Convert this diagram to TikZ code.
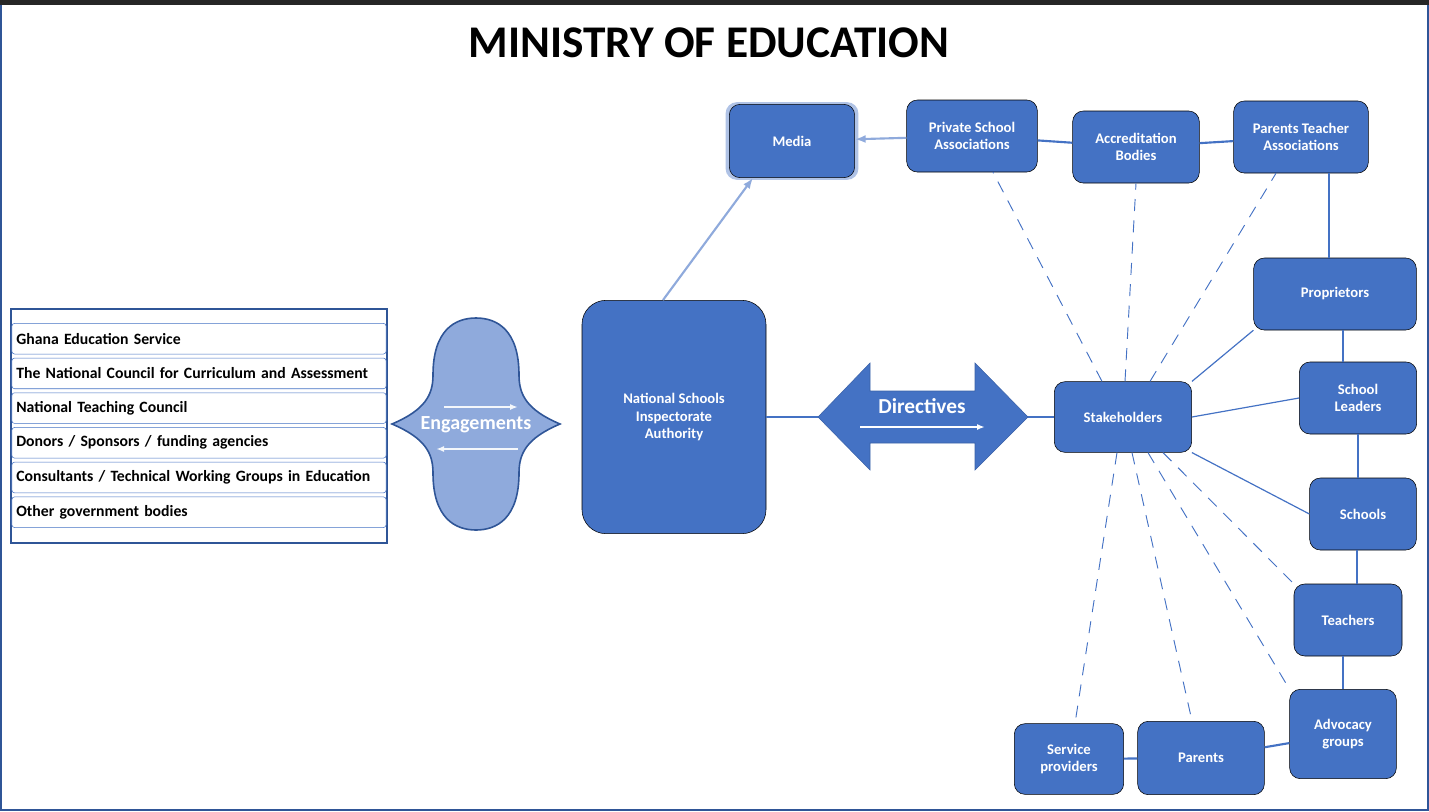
\documentclass[tikz,border=0pt]{standalone}
\usepackage{fontspec}
\setmainfont{Carlito}
\usetikzlibrary{arrows.meta, positioning, calc, backgrounds, shadows}
\definecolor{boxblue}{RGB}{68,114,196}
\definecolor{lightblue}{RGB}{143,170,220}
\definecolor{edgeblue}{RGB}{47,85,151}
\tikzset{
    block/.style={
        rectangle,
        rounded corners=8pt,
        draw=black,
        fill=boxblue,
        text=white,
        align=center,
        font=\fontsize{11}{13}\selectfont\bfseries
    },
    listrow/.style={
        rectangle,
        rounded corners=2pt,
        draw=boxblue,
        fill=white,
        minimum width=278pt,
        minimum height=23pt,
        text width=274pt,
        align=left,
        font=\fontsize{11.8}{13}\selectfont\bfseries
    },
    link/.style={
        draw=boxblue,
        line width=1.6pt
    },
    thinlink/.style={
        draw=boxblue,
        line width=0.9pt
    },
    weaklink/.style={
        draw=boxblue,
        line width=0.7pt,
        dash pattern=on 9pt off 7pt
    },
    feed/.style={
        draw=lightblue,
        line width=1.6pt,
        -{Latex[length=8pt]}
    }
}
\begin{document}
\begin{tikzpicture}[x=0.75pt, y=-0.75pt]

% Frame
\useasboundingbox (0,0) rectangle (1429,811);
\draw[edgeblue, thick] (1,4) rectangle (1428,810);
\fill[black!85] (0,0) rectangle (1429,5);
\node[font=\fontsize{34}{38}\selectfont\bfseries] (title) at (709,43) {MINISTRY OF EDUCATION};

% Left list
\node[draw=edgeblue, line width=1.5pt, minimum width=282pt, minimum height=175pt] (list) at (199,426) {};
\foreach \txt [count=\i] in {Ghana Education Service,
    The National Council for Curriculum and Assessment,
    National Teaching Council,
    Donors / Sponsors / funding agencies,
    Consultants / Technical Working Groups in Education,
    Other government bodies}
    \node[listrow] (row\i) at (199,{304+34.7*\i}) {\txt};

% Engagements shape
\filldraw[draw=edgeblue, very thick, fill=lightblue]
    (392,424) .. controls (425,410) and (433,395) .. (433,375)
    .. controls (433,330) and (455,318) .. (476,318)
    .. controls (497,318) and (519,330) .. (519,375)
    .. controls (519,395) and (527,410) .. (560,424)
    .. controls (527,438) and (519,453) .. (519,473)
    .. controls (519,518) and (497,530) .. (476,530)
    .. controls (455,530) and (433,518) .. (433,473)
    .. controls (433,453) and (425,438) .. cycle;
\node[text=white, font=\fontsize{15}{17}\selectfont\bfseries] (engage) at (476,425) {Engagements};
\draw[white!90!lightblue, very thick, -{Latex[length=6pt]}] (444,407) -- (518,407);
\draw[white!90!lightblue, very thick, -{Latex[length=6pt]}] (518,449) -- (436,449);

% Main nodes
\node[block, rounded corners=18pt, minimum width=138pt, minimum height=175pt] (nsia) at (674,417) {National Schools\\Inspectorate\\Authority};
\node[block, minimum width=103pt, minimum height=53pt] (stake) at (1123,417) {Stakeholders};
\draw[thinlink] (nsia) -- (stake);
\filldraw[fill=boxblue, draw=boxblue!85!black]
    (818,417) -- (870,363) -- (870,391) -- (975,391) -- (975,363) -- (1028,417)
    -- (975,470) -- (975,443) -- (870,443) -- (870,470) -- cycle;
\node[text=white, font=\fontsize{16}{18}\selectfont\bfseries] (dirtxt) at (922,406) {Directives};
\draw[white, very thick, -{Latex[length=6pt]}] (860,427) -- (985,427);

% Top row
\node[block, minimum width=94pt, minimum height=55pt, drop shadow={color=lightblue, opacity=0.7, shadow xshift=0pt, shadow yshift=0pt, shadow scale=1.06}] (media) at (792,141) {Media};
\node[block, minimum width=98pt, minimum height=54pt] (psa) at (972,136) {Private School\\Associations};
\node[block, minimum width=95pt, minimum height=54pt] (accr) at (1136,147) {Accreditation\\Bodies};
\node[block, minimum width=101pt, minimum height=54pt] (pta) at (1301,137) {Parents Teacher\\Associations};

% Right column
\node[block, minimum width=122pt, minimum height=54pt] (prop) at (1335,294) {Proprietors};
\node[block, minimum width=88pt, minimum height=54pt] (lead) at (1358,398) {School\\Leaders};
\node[block, minimum width=80pt, minimum height=54pt] (schools) at (1363,514) {Schools};
\node[block, minimum width=81pt, minimum height=54pt] (teach) at (1348,620) {Teachers};
\node[block, minimum width=80pt, minimum height=67pt] (advo) at (1343,734) {Advocacy\\groups};
\node[block, minimum width=95pt, minimum height=55pt] (parents) at (1201,758) {Parents};
\node[block, minimum width=82pt, minimum height=53pt] (serv) at (1069,759) {Service\\providers};

% Connections
\draw[feed] ($(nsia.north)+(-11,0)$) -- ($(media.south)+(-39,0)$);
\draw[feed] (psa) -- (media);
\draw[link] (psa) -- (accr);
\draw[link] (accr) -- (pta);
\draw[link] ($(pta.south)+(28,0)$) -- ($(prop.north)+(-6,0)$);
\draw[link] ($(prop.south)+(8,0)$) -- ($(lead.north)+(-15,0)$);
\draw[link] (lead.south) -- ($(schools.north)+(-5,0)$);
\draw[link] ($(schools.south)+(-6,0)$) -- ($(teach.north)+(9,0)$);
\draw[link] ($(teach.south)+(-5,0)$) -- (advo.north);
\draw[link] (advo) -- (parents);
\draw[link] (parents) -- (serv);

\draw[thinlink] (stake.north east) -- (prop.south west);
\draw[thinlink] (stake.east) -- (lead.west);
\draw[thinlink] (stake.south east) -- (schools.west);
\draw[weaklink] ($(stake.north)+(-21,0)$) -- ($(psa.south)+(21,0)$);
\draw[weaklink] ($(stake.north)+(2,0)$) -- (accr.south);
\draw[weaklink] ($(stake.north)+(27,0)$) -- ($(pta.south)+(-25,0)$);
\draw[weaklink] ($(stake.south)+(-6,0)$) -- ($(serv.north)+(6,0)$);
\draw[weaklink] ($(stake.south)+(9,0)$) -- ($(parents.north)+(-9,0)$);
\draw[weaklink] ($(stake.south)+(25,0)$) -- (advo.north west);
\draw[weaklink] ($(stake.south)+(40,0)$) -- (teach.north west);

\end{tikzpicture}
\end{document}
